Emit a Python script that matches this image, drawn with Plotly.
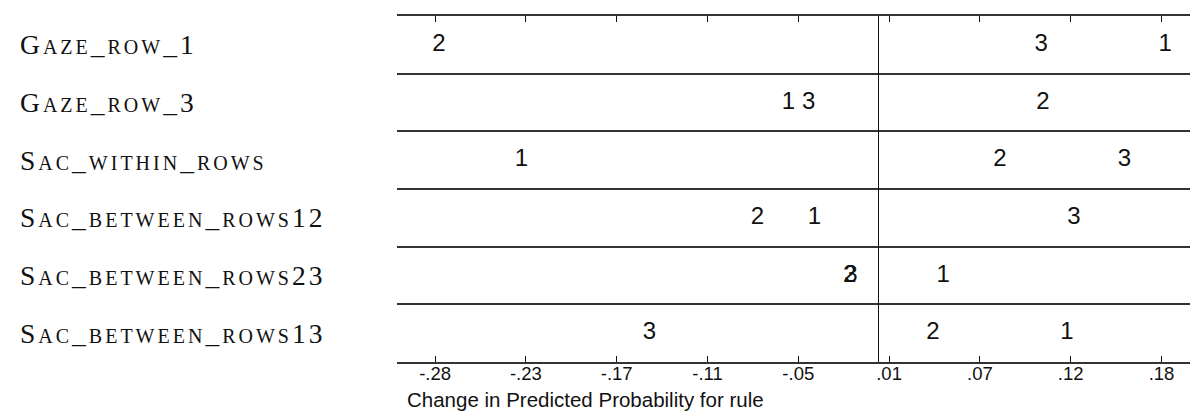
import plotly.graph_objects as go

# Row labels (top to bottom)
variables = ["Gaze_row_1", "Gaze_row_3", "Sac_within_rows",
             "Sac_between_rows12", "Sac_between_rows23", "Sac_between_rows13"]

# Change in predicted probability for each outcome category (1, 2, 3)
cat1 = [0.1824, -0.0569, -0.2266, -0.0405, 0.0413, 0.1200]
cat2 = [-0.2790, 0.1048, 0.0774, -0.0766, -0.0180, 0.0348]
cat3 = [0.1036, -0.0441, 0.1566, 0.1245, -0.0172, -0.1453]

series = {"1": cat1, "2": cat2, "3": cat3}

# X axis ticks (equally spaced positions, rounded labels)
tick_vals = [-0.2815, -0.2238, -0.1661, -0.1084, -0.0507, 0.0070, 0.0647, 0.1224, 0.1801]
tick_text = ["-.28", "-.23", "-.17", "-.11", "-.05", ".01", ".07", ".12", ".18"]

x_range = [-0.3057, 0.2033]
rows = list(range(1, len(variables) + 1))

BIG, SMALL, LS = 27.5, 20, 3


def small_caps(name):
    """Build a small-caps rendering with html spans."""
    runs = []
    for ch in name:
        is_small = ch.islower()
        txt = ch.upper() if is_small else ch
        if runs and runs[-1][0] == is_small:
            runs[-1][1] += txt
        else:
            runs.append([is_small, txt])
    out = ""
    for is_small, txt in runs:
        size = SMALL if is_small else BIG
        out += f"<span style='font-size:{size}px;letter-spacing:{LS}px'>{txt}</span>"
    return out


fig = go.Figure()
for name, vals in series.items():
    fig.add_trace(go.Scatter(
        x=vals, y=rows, mode="text", text=[name] * len(vals),
        textposition="middle center",
        textfont=dict(family="Liberation Sans, Arial, sans-serif", size=24, color="#111111"),
        showlegend=False, hoverinfo="x+y",
    ))

for r, lab in zip(rows, variables):
    fig.add_annotation(
        x=0, xref="paper", xshift=-379, y=r, yref="y",
        text=small_caps(lab), showarrow=False, xanchor="left", yanchor="middle",
        font=dict(family="Liberation Serif, Times New Roman, serif", size=BIG, color="#111111"),
    )

fig.add_annotation(
    x=0, xref="paper", xshift=8, y=0, yref="paper", yshift=-37,
    text="Change in Predicted Probability for rule", showarrow=False,
    xanchor="left", yanchor="middle",
    font=dict(family="Liberation Sans, Arial, sans-serif", size=20.5, color="#111111"),
)

fig.update_layout(
    width=1190, height=403,
    margin=dict(l=389, r=0, t=8, b=49),
    paper_bgcolor="white", plot_bgcolor="white",
    xaxis=dict(
        range=x_range, tickvals=tick_vals, ticktext=tick_text,
        ticks="inside", ticklen=6, tickwidth=1, tickcolor="#111111",
        showline=True, linecolor="#333333", linewidth=2, mirror="ticks",
        showgrid=False, zeroline=True, zerolinecolor="#111111", zerolinewidth=1,
        tickfont=dict(family="Liberation Sans, Arial, sans-serif", size=18.5, color="#111111"),
        ticklabelstandoff=-6,
        fixedrange=True,
    ),
    yaxis=dict(
        range=[6.5, 0.5], tickvals=rows, showticklabels=False, ticks="",
        showgrid=False, zeroline=False, showline=False,
        minor=dict(tick0=0.5, dtick=1, showgrid=True, gridcolor="#333333", gridwidth=2, ticks=""),
        fixedrange=True,
    ),
)

fig.write_html("out.html")
